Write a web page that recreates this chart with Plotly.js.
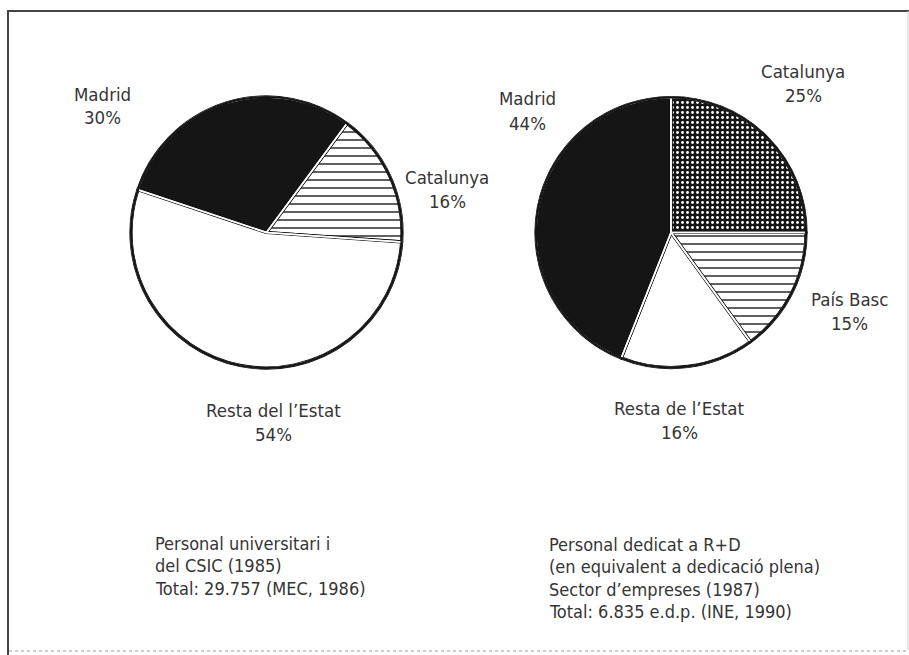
<!DOCTYPE html>
<html>
<head>
<meta charset="utf-8">
<script src="https://cdn.plot.ly/plotly-3.0.1.min.js"></script>
<style>html,body{margin:0;padding:0;background:#fff;}#chart{width:909px;height:655px;}</style>
</head>
<body>
<div id="chart"></div>
<script>
// ---- data ----
const leftLabels = ['Catalunya', 'Madrid', 'Resta del l\u2019Estat'];
const leftValues = [16, 30, 54];
const rightLabels = ['Catalunya', 'Pa\u00eds Basc', 'Resta de l\u2019Estat', 'Madrid'];
const rightValues = [25, 15, 16, 44];
const leftNote = ['Personal universitari i', 'del CSIC (1985)', 'Total: 29.757 (MEC, 1986)'];
const rightNote = ['Personal dedicat a R+D', '(en equivalent a dedicaci\u00f3 plena)', 'Sector d\u2019empreses (1987)', 'Total: 6.835 e.d.p. (INE, 1990)'];

// ---- styles ----
const W = 909, H = 655;
const FONT = '"DejaVu Sans Condensed", "Liberation Sans", Arial, sans-serif';
const TXT = '#353535';
const BLACK = '#151515';
const px = x => x / W;
const py = y => 1 - y / H;

const leftDomain = {x: [px(131), px(402)], y: [py(368), py(97)]};
const rightDomain = {x: [px(536), px(806)], y: [py(369), py(96)]};

const leftStyle = {
  colors: ['#ffffff', BLACK, '#ffffff'],
  pattern: {shape: ['-', '', ''], fgcolor: '#222', bgcolor: ['#ffffff', BLACK, '#ffffff'], size: 8, solidity: 0.18}
};
const rightStyle = {
  colors: [BLACK, '#ffffff', '#ffffff', BLACK],
  pattern: {shape: ['.', '-', '', ''], fgcolor: ['#ffffff', '#222', '#222', '#222'], bgcolor: [BLACK, '#ffffff', '#ffffff', BLACK], size: [5, 8, 8, 8], solidity: [0.25, 0.18, 0.18, 0.18]}
};

function pieSet(labels, values, domain, style, rotation, direction) {
  const base = {type: 'pie', labels: labels, values: values, domain: domain, sort: false,
    rotation: rotation, direction: direction, textinfo: 'none', showlegend: false, hoverinfo: 'label+percent'};
  const fill = Object.assign({}, base, {
    marker: {colors: style.colors, pattern: style.pattern, line: {color: BLACK, width: 3.2}}
  });
  const gap = Object.assign({}, base, {hoverinfo: 'skip',
    marker: {colors: labels.map(() => 'rgba(0,0,0,0)'), line: {color: '#ffffff', width: 1.6}}
  });
  const total = values.reduce((a, b) => a + b, 0);
  const rim = {type: 'pie', labels: ['total'], values: [total], domain: domain, sort: false,
    textinfo: 'none', showlegend: false, hoverinfo: 'skip',
    marker: {colors: ['rgba(0,0,0,0)'], line: {color: BLACK, width: 2.2}}};
  return [fill, gap, rim];
}

const data = [].concat(
  pieSet(leftLabels, leftValues, leftDomain, leftStyle, 36.4, 'counterclockwise'),
  pieSet(rightLabels, rightValues, rightDomain, rightStyle, 0, 'clockwise')
);

// label positions (pixel centres)
const leftLabelPos = [[447, 189], [102, 106], [273, 422]];
const rightLabelPos = [[803, 84], [849, 311], [679, 420], [527, 111]];
const LINE = 24;

const annotations = [];
function txt(x, y, s, size, anchor) {
  annotations.push({xref: 'paper', yref: 'paper', x: px(x), y: py(y), xanchor: anchor, yanchor: 'middle',
    showarrow: false, align: anchor === 'left' ? 'left' : 'center', text: s,
    font: {family: FONT, size: size, color: TXT}});
}
function addLabels(labels, values, pos) {
  labels.forEach((l, i) => {
    txt(pos[i][0], pos[i][1] - LINE / 2, l, 18.5, 'center');
    txt(pos[i][0], pos[i][1] + LINE / 2, values[i] + '%', 18.5, 'center');
  });
}
addLabels(leftLabels, leftValues, leftLabelPos);
addLabels(rightLabels, rightValues, rightLabelPos);

const NOTE_LINE = 22.5;
leftNote.forEach((s, i) => txt(153, 543 + i * NOTE_LINE, s, 18, 'left'));
rightNote.forEach((s, i) => txt(547, 544 + i * NOTE_LINE, s, 18, 'left'));

const layout = {
  width: W, height: H,
  margin: {l: 0, r: 0, t: 0, b: 0},
  paper_bgcolor: '#ffffff', plot_bgcolor: '#ffffff',
  showlegend: false,
  annotations: annotations,
  shapes: [
    {type: 'line', xref: 'paper', yref: 'paper', x0: px(8), x1: px(8), y0: py(655), y1: py(10), line: {color: '#444', width: 2}},
    {type: 'line', xref: 'paper', yref: 'paper', x0: px(7), x1: px(909), y0: py(11), y1: py(11), line: {color: '#444', width: 2}},
    {type: 'line', xref: 'paper', yref: 'paper', x0: px(908), x1: px(908), y0: py(650), y1: py(11), line: {color: '#cfcfcf', width: 1}},
    {type: 'line', xref: 'paper', yref: 'paper', x0: px(9), x1: px(909), y0: py(651), y1: py(651), line: {color: '#bdbdbd', width: 1.5, dash: 'dot'}}
  ]
};

Plotly.newPlot('chart', data, layout, {staticPlot: true});
</script>
</body>
</html>
